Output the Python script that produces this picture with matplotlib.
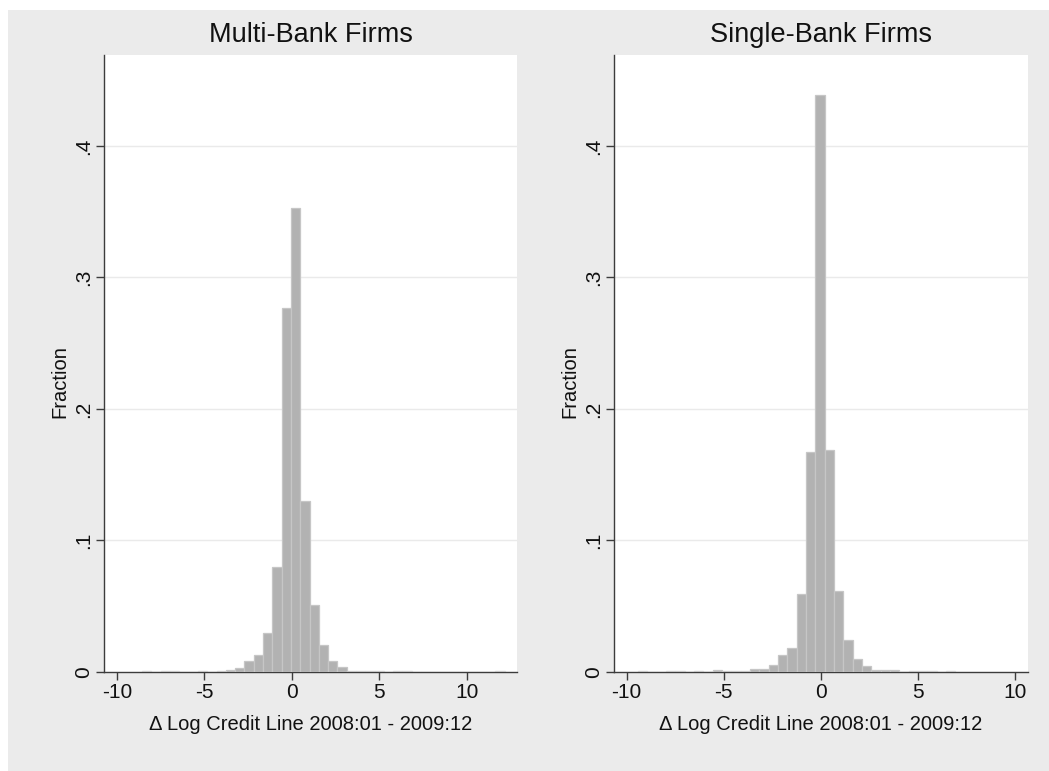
import numpy as np
import matplotlib
matplotlib.use("Agg")
import matplotlib.pyplot as plt
from matplotlib.patches import Rectangle

plt.rcParams['font.family'] = ['Liberation Sans', 'DejaVu Sans']

# Histogram of the change in log credit line, 2008:01 - 2009:12
multi_start = -8.55
multi_width = 0.531
multi_fraction = [
    0.0007, 0.0, 0.0007, 0.0007, 0.0, 0.0, 0.0007, 0.0, 0.001, 0.0015,
    0.003, 0.0081, 0.0132, 0.0294, 0.080, 0.2765, 0.353, 0.130, 0.0511, 0.0203,
    0.0081, 0.0035, 0.001, 0.0005, 0.0005, 0.0008, 0.0, 0.0008, 0.0008, 0.0,
    0.0, 0.0, 0.0, 0.0, 0.0, 0.0, 0.0, 0.0, 0.0007,
]

single_start = -9.42
single_width = 0.481
single_fraction = [
    0.0008, 0.0, 0.0, 0.0006, 0.0006, 0.0, 0.0008, 0.0, 0.0015, 0.0005,
    0.0005, 0.001, 0.0023, 0.0023, 0.0052, 0.0131, 0.018, 0.059, 0.1675, 0.439,
    0.169, 0.0615, 0.0242, 0.0096, 0.0044, 0.0015, 0.0015, 0.0012, 0.0, 0.0008,
    0.0008, 0.0008, 0.0, 0.0008,
]

titles = ["Multi-Bank Firms", "Single-Bank Firms"]
xlabel = "\u0394 Log Credit Line 2008:01 - 2009:12"
ylabel = "Fraction"
y_ticks = [0, 0.1, 0.2, 0.3, 0.4]
y_ticklabels = ["0", ".1", ".2", ".3", ".4"]
x_ticks = [-10, -5, 0, 5, 10]
x_ticklabels = ["-10", "-5", "0", "5", "10"]

W, H = 1049, 771
fig = plt.figure(figsize=(W / 100, H / 100), dpi=100)
fig.patch.set_facecolor("white")
fig.patches.append(Rectangle((8 / W, 0), 1 - 8 / W, 1 - 10 / H,
                             transform=fig.transFigure, facecolor="#ebebeb",
                             edgecolor="none", zorder=-10))

panels = [
    dict(rect=(104, 517), start=multi_start, width=multi_width,
         vals=multi_fraction, xlim=(-10.73, 12.86)),
    dict(rect=(614, 1028), start=single_start, width=single_width,
         vals=single_fraction, xlim=(-10.65, 10.67)),
]

top_px, bottom_px = 55, 672
for p, title in zip(panels, titles):
    x0, x1 = p["rect"]
    ax = fig.add_axes([x0 / W, (H - bottom_px) / H, (x1 - x0) / W,
                       (bottom_px - top_px) / H])
    ax.set_facecolor("white")
    vals = np.array(p["vals"])
    lefts = p["start"] + p["width"] * np.arange(len(vals))
    ax.bar(lefts, vals, width=p["width"], align="edge",
           facecolor="#b2b2b2", edgecolor="#c6c6c6", linewidth=0.9, zorder=3)
    ax.set_xlim(*p["xlim"])
    ax.set_ylim(0, 0.4692)
    for yv in y_ticks[1:]:
        ax.axhline(yv, color="#eaeaea", linewidth=1.0, zorder=1)
    ax.set_yticks(y_ticks)
    ax.set_yticklabels(y_ticklabels, rotation=90, va="center", fontsize=15)
    ax.set_xticks(x_ticks)
    ax.set_xticklabels(x_ticklabels, fontsize=15)
    for s in ("top", "right"):
        ax.spines[s].set_visible(False)
    for s in ("left", "bottom"):
        ax.spines[s].set_color("#3c3c3c")
        ax.spines[s].set_linewidth(1.0)
    ax.tick_params(axis="both", direction="out", length=6, width=1.0,
                   color="#3c3c3c", labelcolor="#111111", pad=2)
    ax.set_xlabel(xlabel, fontsize=14.5, labelpad=9, color="#111111")
    ax.set_ylabel(ylabel, fontsize=14.5, labelpad=8, color="#111111")
    ax.yaxis.set_label_coords(-0.083, 0.47)
    ax.set_title(title, fontsize=19.5, pad=9, color="#111111")

fig.savefig("out.png", dpi=100, facecolor=fig.get_facecolor())
